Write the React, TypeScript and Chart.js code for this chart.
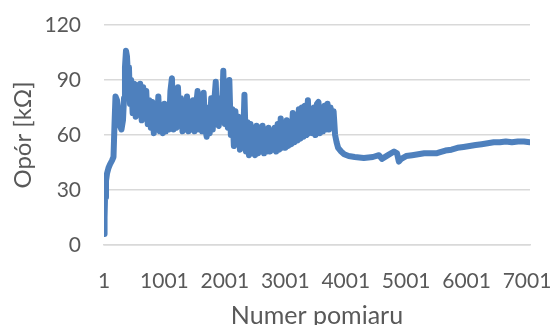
import React, { useEffect, useRef } from "react";
import { Chart, registerables } from "chart.js";

Chart.register(...registerables);

const measurement = [
  1, 10, 18, 34, 51, 75, 100, 133, 158, 175, 191, 216, 241, 265, 290, 315, 332, 348, 365, 381, 398, 414, 431,
  450, 475, 500, 525, 550, 575, 600, 625, 650, 675, 700, 725, 750, 775, 800, 825, 850, 875, 900, 925, 950, 975,
  1000, 1025, 1050, 1075, 1100, 1125, 1150, 1175, 1200, 1225, 1250, 1275, 1300, 1325, 1350, 1375, 1400, 1425,
  1450, 1475, 1500, 1525, 1550, 1575, 1600, 1625, 1650, 1675, 1700, 1725, 1750, 1775, 1800, 1825, 1850, 1875,
  1900, 1925, 1950, 1975, 2000, 2025, 2050, 2075, 2100, 2125, 2150, 2175, 2200, 2225, 2250, 2275, 2300, 2325,
  2350, 2375, 2400, 2425, 2450, 2475, 2500, 2525, 2550, 2575, 2600, 2625, 2650, 2675, 2700, 2725, 2750, 2775,
  2800, 2825, 2850, 2875, 2900, 2925, 2950, 2975, 3000, 3025, 3050, 3075, 3100, 3125, 3150, 3175, 3200, 3225,
  3250, 3275, 3300, 3325, 3350, 3375, 3400, 3425, 3450, 3475, 3500, 3525, 3550, 3575, 3600, 3625, 3650, 3675,
  3700, 3725, 3750, 3775, 3800, 3825,
  3850, 3875, 3925, 3975, 4050, 4150, 4300, 4450, 4550, 4600, 4700, 4800, 4850, 4880, 4920, 5000, 5100, 5200,
  5300, 5400, 5500, 5550, 5650, 5750, 5850, 5950, 6050, 6150, 6250, 6350, 6450, 6550, 6650, 6750, 6850, 6950, 7050,
];

const resistance = [
  6, 15, 26, 35, 39, 42, 44, 46, 48, 66, 81, 79, 72, 65, 63, 68, 80, 97, 106, 103, 92, 97, 77,
  90, 72, 88, 70, 87, 73, 88, 68, 86, 70, 84, 66, 79, 64, 78, 61, 77, 63, 81, 62, 76, 61,
  77, 62, 75, 63, 84, 91, 63, 78, 64, 86, 65, 80, 62, 78, 63, 81, 62, 77,
  63, 79, 62, 76, 84, 63, 78, 62, 83, 64, 59, 75, 61, 80, 63, 78, 89, 66,
  65, 80, 68, 95, 66, 78, 64, 90, 60, 74, 54, 73, 55, 70, 52, 68, 53, 82,
  51, 67, 49, 66, 50, 62, 49, 65, 50, 64, 51, 65, 50, 63, 51, 64, 51, 62,
  52, 64, 51, 66, 52, 69, 53, 66, 53, 68, 54, 67, 55, 72, 56, 70, 57, 74,
  58, 75, 59, 76, 60, 79, 61, 74, 61, 75, 60, 77, 78, 61, 74, 62, 76, 63,
  77, 63, 75, 64, 73, 60,
  56, 53, 51, 49.5, 48.5, 48, 47.5, 48, 49, 47, 49, 51, 50, 45.5, 47, 48.5, 49, 49.5,
  50, 50, 50, 50.5, 51.5, 52, 53, 53.5, 54, 54.5, 55, 55.5, 56, 56, 56.5, 56, 56.5, 56.5, 56,
];

const xTickValues = [1, 1001, 2001, 3001, 4001, 5001, 6001, 7001];
const yTickStep = 30;

const TEXT = "#595959";
const FONT = "Lato, 'Open Sans', sans-serif";

export default function App() {
  const ref = useRef<HTMLCanvasElement | null>(null);

  useEffect(() => {
    if (!ref.current) return;
    const chart = new Chart(ref.current, {
      type: "line",
      data: {
        datasets: [
          {
            data: measurement.map((x, i) => ({ x, y: resistance[i] })),
            borderColor: "#4e80bd",
            backgroundColor: "#4e80bd",
            borderWidth: 6,
            pointRadius: 0,
            tension: 0,
            borderJoinStyle: "round",
            borderCapStyle: "round",
          },
        ],
      },
      options: {
        animation: false,
        responsive: false,
        maintainAspectRatio: false,
        layout: { padding: { top: 25, right: 24, left: 0, bottom: 0 } },
        plugins: { legend: { display: false }, tooltip: { enabled: false } },
        scales: {
          x: {
            type: "linear",
            min: 1,
            max: 7050,
            afterBuildTicks: (axis: any) => {
              axis.ticks = xTickValues.map((v) => ({ value: v }));
            },
            afterFit: (axis: any) => {
              axis.height = 80;
              axis.paddingLeft = 0;
              axis.paddingRight = 0;
              axis.paddingTop = 0;
              axis.paddingBottom = 0;
            },
            grid: { display: false, drawTicks: false },
            border: { display: true, color: "#d9d9d9", width: 1.5 },
            ticks: {
              autoSkip: false,
              maxRotation: 0,
              padding: 24,
              color: TEXT,
              font: { family: FONT, size: 21 },
              callback: (v: any) => String(v),
            },
            title: {
              display: true,
              text: "Numer pomiaru",
              color: TEXT,
              font: { family: FONT, size: 25 },
              padding: { top: 0, bottom: -6 },
            },
          },
          y: {
            min: 0,
            max: 120,
            afterFit: (axis: any) => {
              axis.width = 104;
              axis.paddingLeft = 0;
              axis.paddingRight = 0;
              axis.paddingTop = 0;
              axis.paddingBottom = 0;
            },
            grid: { color: "#d9d9d9", lineWidth: 1.5, drawTicks: false },
            border: { display: false },
            ticks: {
              stepSize: yTickStep,
              padding: 23,
              color: TEXT,
              font: { family: FONT, size: 21 },
            },
            title: {
              display: true,
              text: "Opór [kΩ]",
              color: TEXT,
              font: { family: FONT, size: 24 },
              padding: { bottom: 0, top: 9 },
            },
          },
        },
      },
    });
    return () => chart.destroy();
  }, []);

  return (
    <div style={{ position: "fixed", left: 0, top: 0, width: 554, height: 325, background: "#fff" }}>
      <canvas ref={ref} width={554} height={325} style={{ width: 554, height: 325 }} />
    </div>
  );
}
